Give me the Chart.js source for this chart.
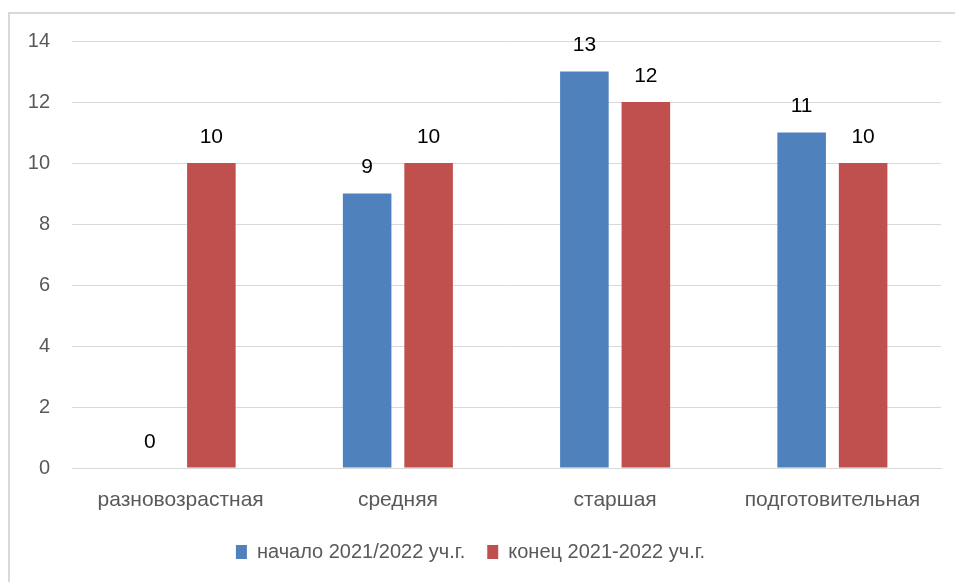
<!DOCTYPE html>
<html>
<head>
<meta charset="utf-8">
<script src="https://cdn.jsdelivr.net/npm/chart.js@4.4.0/dist/chart.umd.min.js"></script>
<style>
  html, body { margin: 0; padding: 0; background: #fff; }
  #wrap { position: relative; width: 955px; height: 582px; overflow: hidden; }
  #frame { position: absolute; left: 8px; top: 12px; width: 2000px; height: 2000px; border: 2px solid #d9d9d9; }
  #chart { position: absolute; left: 0; top: 0; }
</style>
</head>
<body>
<div id="wrap">
  <div id="frame"></div>
  <canvas id="chart" width="955" height="582"></canvas>
</div>
<script>
const categories = ['разновозрастная', 'средняя', 'старшая', 'подготовительная'];
const startValues = [0, 9, 13, 11];
const endValues = [10, 10, 12, 10];
const seriesNames = ['начало 2021/2022 уч.г.', 'конец 2021-2022 уч.г.'];
const yTicks = [0, 2, 4, 6, 8, 10, 12, 14];

const fontFamily = '"Liberation Sans", Arial, sans-serif';

// labels above each bar
const barValueLabels = {
    id: 'barValueLabels',
    afterDatasetsDraw(chart) {
        const ctx = chart.ctx;
        ctx.save();
        ctx.font = '21px ' + fontFamily;
        ctx.fillStyle = '#000';
        ctx.textAlign = 'center';
        ctx.textBaseline = 'middle';
        chart.data.datasets.forEach(function (ds, i) {
            chart.getDatasetMeta(i).data.forEach(function (bar, j) {
                ctx.fillText(ds.data[j], bar.x, bar.y - 26);
            });
        });
        ctx.restore();
    }
};

let ctx = document.getElementById('chart').getContext('2d');
let myChart = new Chart(ctx, {
    type: 'bar',
    data: {
        labels: categories,
        datasets: [{
            label: seriesNames[0],
            data: startValues,
            backgroundColor: '#4F81BD',
            categoryPercentage: 0.566,
            barPercentage: 0.79
        }, {
            label: seriesNames[1],
            data: endValues,
            backgroundColor: '#C0504D',
            categoryPercentage: 0.566,
            barPercentage: 0.79
        }]
    },
    options: {
        responsive: false,
        animation: false,
        layout: {
            padding: { top: 41, right: 14, left: 0, bottom: 10 }
        },
        plugins: {
            tooltip: { enabled: false },
            legend: {
                position: 'bottom',
                labels: {
                    boxWidth: 11,
                    boxHeight: 14,
                    padding: 22,
                    color: '#595959',
                    font: { family: fontFamily, size: 20 }
                }
            }
        },
        scales: {
            x: {
                grid: { display: false },
                border: { display: true, color: '#d9d9d9', width: 1 },
                ticks: {
                    color: '#595959',
                    padding: 12,
                    maxRotation: 0,
                    font: { family: fontFamily, size: 21 }
                },
                afterFit: function (scale) { scale.height = 52; }
            },
            y: {
                min: 0,
                max: 14,
                afterBuildTicks: function (scale) {
                    scale.ticks = yTicks.map(function (v) { return { value: v }; });
                },
                grid: { color: '#d9d9d9', drawTicks: false },
                border: { display: false },
                ticks: {
                    color: '#595959',
                    padding: 22,
                    font: { family: fontFamily, size: 20 }
                },
                afterFit: function (scale) { scale.width = 72; }
            }
        }
    },
    plugins: [barValueLabels]
});
</script>
</body>
</html>
